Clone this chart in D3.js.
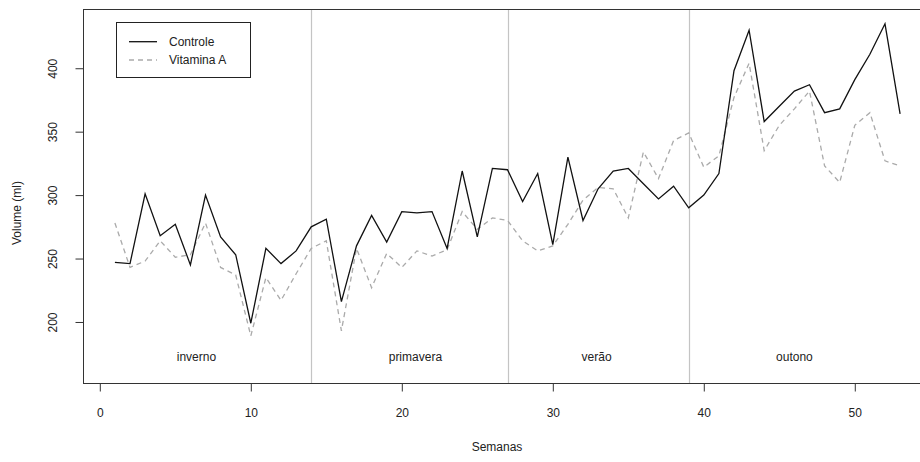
<!DOCTYPE html>
<html>
<head>
<meta charset="utf-8">
<script src="https://cdn.jsdelivr.net/npm/d3@7"></script>
<style>
	body { margin: 0; background: #fff; }
	svg text { font-family: "Liberation Sans", Arial, sans-serif; font-size: 12px; fill: #222; }
</style>
</head>
<body>
<svg id="chart" width="920" height="462"></svg>
<script>
var semanas = d3.range(1, 54);
var controle = [247,246,301,268,277,245,300,267,253,199,258,246,256,275,
	281,216,260,284,263,287,286,287,258,319,267,321,320,
	295,317,261,330,280,305,319,321,309,297,307,290,
	300,317,398,430,358,370,382,387,365,368,391,411,435,364];
var vitaminaA = [278,243,248,264,251,253,278,243,237,189,235,217,238,258,
	264,193,258,227,254,243,256,252,257,287,273,282,280,
	264,256,260,277,296,306,305,282,334,313,343,349,
	322,331,377,404,335,355,368,382,323,310,355,365,327,323];
var estacoes = ["inverno", "primavera", "verão", "outono"];
var estacoesPos = [6.4, 20.9, 32.9, 46.0];
var divisorias = [14, 27, 39];
var xTicks = [0, 10, 20, 30, 40, 50];
var yTicks = [200, 250, 300, 350, 400];
var series = [
	{ nome: "Controle", valores: controle, cor: "#111", dash: null },
	{ nome: "Vitamina A", valores: vitaminaA, cor: "#aaa", dash: "5,4" }
];

var svg = d3.select("#chart");

var plotLeft = 83.5, plotRight = 931.5, plotTop = 9.5, plotBottom = 383.5;

var x = d3.scaleLinear().domain([-1.08, 55.08]).range([plotLeft, plotRight]);
var y = d3.scaleLinear().domain([151.5, 446.3]).range([plotBottom, plotTop]);

// separadores das estações
svg.append("g")
	.selectAll("line")
	.data(divisorias)
	.enter().append("line")
	.attr("x1", function(d) { return Math.round(x(d)) + 0.5; })
	.attr("x2", function(d) { return Math.round(x(d)) + 0.5; })
	.attr("y1", plotTop)
	.attr("y2", plotBottom)
	.attr("stroke", "#c4c4c4")
	.attr("stroke-width", 1.2);

var line = d3.line()
	.x(function(d, i) { return x(semanas[i]); })
	.y(function(d) { return y(d); });

svg.append("g")
	.selectAll("path")
	.data(series.slice().reverse())
	.enter().append("path")
	.attr("d", function(d) { return line(d.valores); })
	.attr("fill", "none")
	.attr("stroke", function(d) { return d.cor; })
	.attr("stroke-width", 1.3)
	.attr("stroke-dasharray", function(d) { return d.dash; });

svg.append("g")
	.selectAll("text")
	.data(estacoes)
	.enter().append("text")
	.attr("x", function(d, i) { return x(estacoesPos[i]); })
	.attr("y", y(172.4))
	.attr("text-anchor", "middle")
	.attr("dominant-baseline", "central")
	.text(function(d) { return d; });

// eixos
var xAxis = svg.append("g")
	.attr("transform", "translate(0," + plotBottom + ")")
	.call(d3.axisBottom(x).tickValues(xTicks).tickSize(8).tickPadding(17));

var yAxis = svg.append("g")
	.attr("transform", "translate(" + plotLeft + ",0)")
	.call(d3.axisLeft(y).tickValues(yTicks).tickSize(8));

yAxis.selectAll("text")
	.attr("x", 0)
	.attr("dy", "0.35em")
	.attr("text-anchor", "middle")
	.attr("transform", "translate(-31,0) rotate(-90)");

[xAxis, yAxis].forEach(function(a) {
	a.select(".domain").remove();
	a.selectAll("line").attr("stroke", "#333");
	a.selectAll("text").attr("font-size", null).attr("font-family", null).attr("fill", "#222");
});

svg.append("rect")
	.attr("x", plotLeft)
	.attr("y", plotTop)
	.attr("width", plotRight - plotLeft)
	.attr("height", plotBottom - plotTop)
	.attr("fill", "none")
	.attr("stroke", "#333")
	.attr("stroke-width", 1);

svg.append("text")
	.attr("x", 497)
	.attr("y", 447)
	.attr("text-anchor", "middle")
	.attr("dominant-baseline", "central")
	.text("Semanas");

svg.append("text")
	.attr("transform", "translate(17,213) rotate(-90)")
	.attr("text-anchor", "middle")
	.attr("dominant-baseline", "central")
	.text("Volume (ml)");

// legenda
var legend = svg.append("g");

legend.append("rect")
	.attr("x", 116.5)
	.attr("y", 22.5)
	.attr("width", 134)
	.attr("height", 55)
	.attr("fill", "#fff")
	.attr("stroke", "#222");

var item = legend.selectAll("g")
	.data(series)
	.enter().append("g")
	.attr("transform", function(d, i) { return "translate(0," + (41.7 + i * 18.3) + ")"; });

item.append("line")
	.attr("x1", 129)
	.attr("x2", 157)
	.attr("stroke", function(d) { return d.cor; })
	.attr("stroke-width", 1.3)
	.attr("stroke-dasharray", function(d) { return d.dash; });

item.append("text")
	.attr("x", 169)
	.attr("dominant-baseline", "central")
	.text(function(d) { return d.nome; });
</script>
</body>
</html>
